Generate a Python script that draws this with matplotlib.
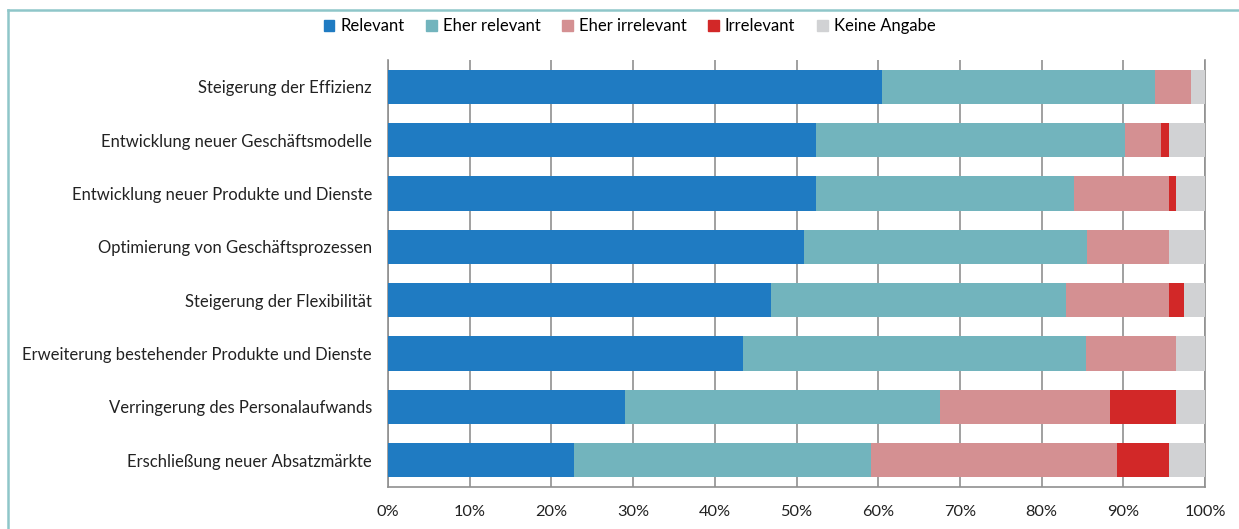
import numpy as np
import matplotlib.pyplot as plt
from matplotlib.lines import Line2D
from matplotlib.ticker import PercentFormatter

plt.rcParams['font.family'] = ['Lato', 'DejaVu Sans']

# Anteile in Prozent je Bereich (von oben nach unten)
categories = [
    "Steigerung der Effizienz",
    "Entwicklung neuer Geschäftsmodelle",
    "Entwicklung neuer Produkte und Dienste",
    "Optimierung von Geschäftsprozessen",
    "Steigerung der Flexibilität",
    "Erweiterung bestehender Produkte und Dienste",
    "Verringerung des Personalaufwands",
    "Erschließung neuer Absatzmärkte",
]
relevant = [60.4, 52.4, 52.4, 50.9, 46.9, 43.4, 29.0, 22.8]
eher_relevant = [33.5, 37.8, 31.5, 34.6, 36.1, 42.0, 38.6, 36.3]
eher_irrelevant = [4.4, 4.4, 11.7, 10.1, 12.6, 11.1, 20.8, 30.1]
irrelevant = [0.0, 1.0, 0.9, 0.0, 1.8, 0.0, 8.1, 6.4]
keine_angabe = [1.7, 4.4, 3.5, 4.4, 2.6, 3.5, 3.5, 4.4]

series = [
    ("Relevant", relevant, "#1f7bc2"),
    ("Eher relevant", eher_relevant, "#72b4bd"),
    ("Eher irrelevant", eher_irrelevant, "#d49092"),
    ("Irrelevant", irrelevant, "#d22828"),
    ("Keine Angabe", keine_angabe, "#d1d2d4"),
]

fig = plt.figure(figsize=(12.39, 5.29), dpi=100)
ax = fig.add_axes([0.3132, 0.0794, 0.6594, 0.8072])

y = np.arange(len(categories))
left = np.zeros(len(categories))
for name, vals, color in series:
    vals = np.array(vals)
    ax.barh(y, vals, left=left, height=0.64, color=color, label=name, zorder=3)
    left += vals

ax.set_xlim(0, 100)
ax.set_ylim(len(categories) - 0.5, -0.5)
ax.set_yticks(y)
ax.set_yticklabels(categories, fontsize=12, color="#222222")
ax.set_xticks(np.arange(0, 101, 10))
ax.xaxis.set_major_formatter(PercentFormatter(decimals=0))
ax.tick_params(axis="x", length=0, pad=13, labelsize=11.8, labelcolor="#222222")
ax.tick_params(axis="y", length=0, pad=11.5)
ax.grid(axis="x", color="#909090", linewidth=1.2, zorder=0)

for side in ("left", "bottom", "right"):
    ax.spines[side].set_color("#909090")
    ax.spines[side].set_linewidth(1.2)
ax.spines["top"].set_visible(False)

handles = [plt.Rectangle((0, 0), 1, 1, color=c) for _, _, c in series]
fig.legend(handles, [s[0] for s in series], loc="center", bbox_to_anchor=(0.508, 0.951),
           ncol=5, frameon=False, fontsize=12, handlelength=0.65, handleheight=0.65,
           handletextpad=0.35, columnspacing=1.3)

# Rahmenlinien oben und links
frame_color = "#8fc6c9"
fig.add_artist(Line2D([8 / 1239, 1.0], [1 - 10 / 529, 1 - 10 / 529],
                      transform=fig.transFigure, color=frame_color, linewidth=1.8))
fig.add_artist(Line2D([8 / 1239, 8 / 1239], [0.0, 1 - 10 / 529],
                      transform=fig.transFigure, color=frame_color, linewidth=1.8))

fig.savefig("out.png", dpi=100, facecolor="white")
